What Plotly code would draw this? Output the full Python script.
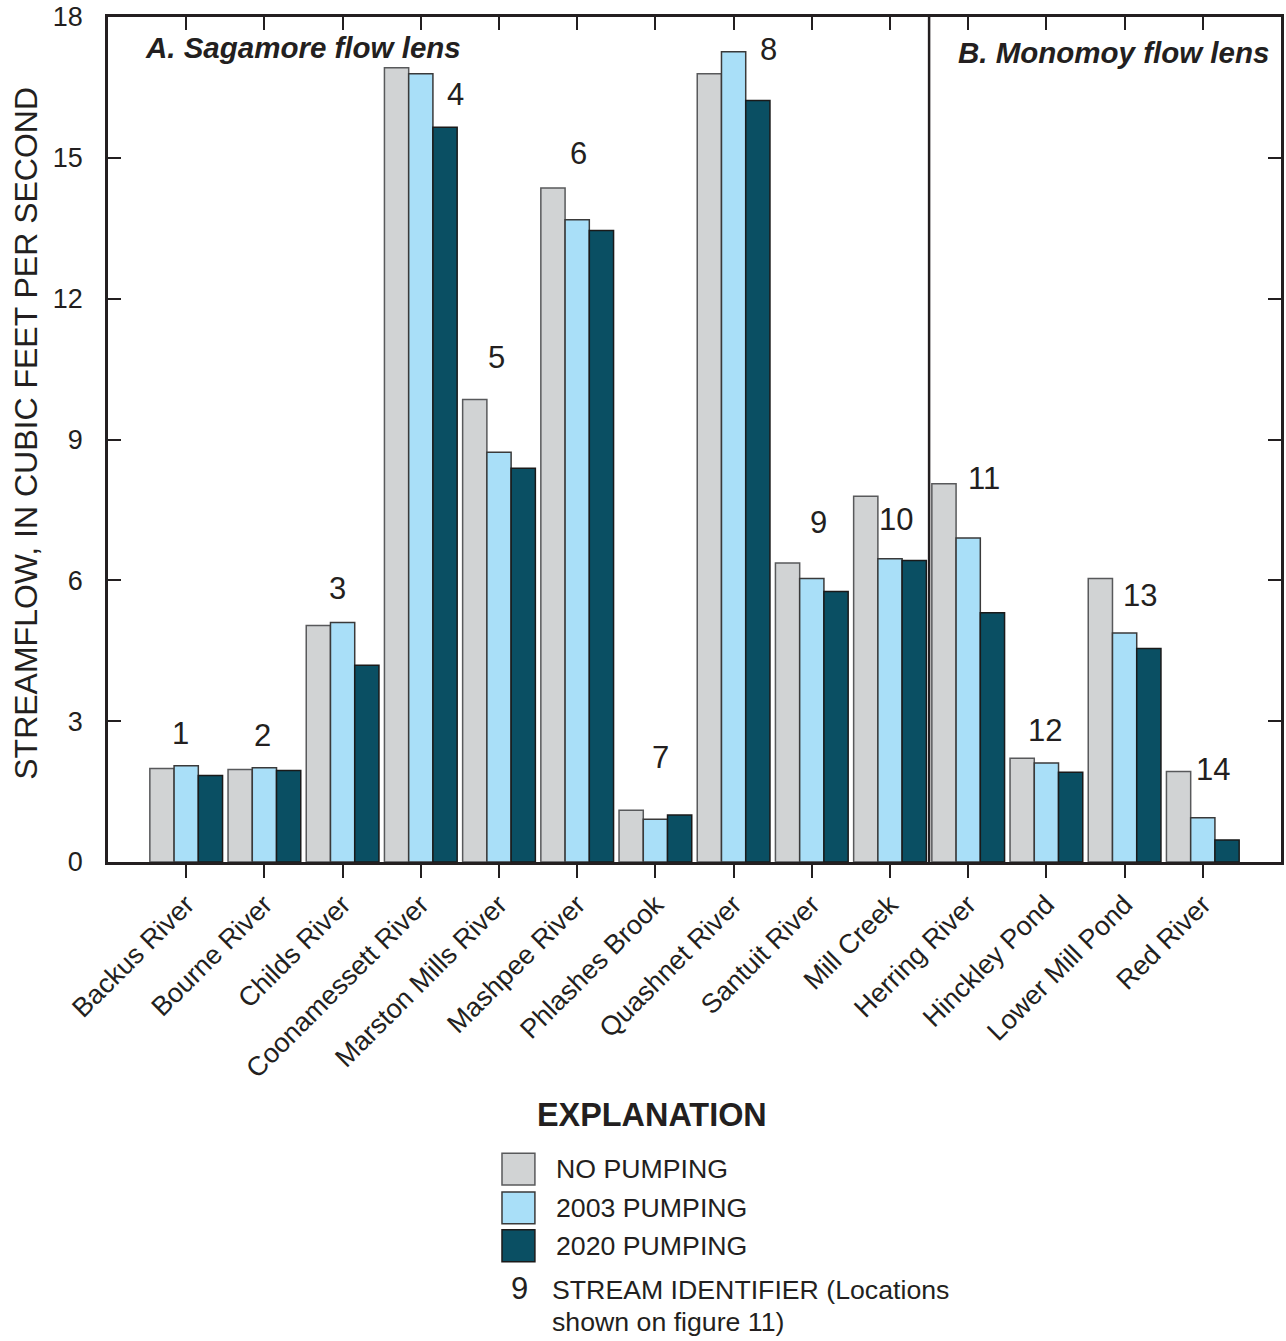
import plotly.graph_objects as go

# ---------------- data ----------------
streams = ["Backus River", "Bourne River", "Childs River", "Coonamessett River",
           "Marston Mills River", "Mashpee River", "Phlashes Brook", "Quashnet River",
           "Santuit River", "Mill Creek", "Herring River", "Hinckley Pond",
           "Lower Mill Pond", "Red River"]
stream_ids = ["1", "2", "3", "4", "5", "6", "7", "8", "9", "10", "11", "12", "13", "14"]
no_pumping = [1.99, 1.97, 5.04, 16.92, 9.85, 14.36, 1.10, 16.79, 6.37, 7.79, 8.06, 2.21, 6.04, 1.93]
pumping_2003 = [2.05, 2.01, 5.10, 16.79, 8.73, 13.68, 0.91, 17.26, 6.04, 6.46, 6.90, 2.11, 4.88, 0.94]
pumping_2020 = [1.84, 1.95, 4.19, 15.65, 8.39, 13.45, 1.00, 16.22, 5.76, 6.42, 5.31, 1.91, 4.55, 0.47]
series_names = ["NO PUMPING", "2003 PUMPING", "2020 PUMPING"]
y_ticks = [0, 3, 6, 9, 12, 15, 18]

# ---------------- style ----------------
FONT = "Liberation Sans, Arial, Helvetica, sans-serif"
TXT = "#231f20"
fills = ["#d1d3d4", "#a9dff8", "#0a4f63"]
edges = ["#58595b", "#3a3a3a", "#1a1a1a"]
label_dx = [-6, -2, -5, 35, -3, 1, 5, 35, 7, 6, 16, -1, 15, 10]
label_dy = [32, 32, 34, -27, 42, 34, 53, 2, 40, -23, 5, 28, -17, 2]

W, H = 1286, 1341
ML, MR, MT, MB = 108, 2, 12, 479
PW, PH = W - ML - MR, H - MT - MB


def px(xp):
    return (xp - ML) / PW


def py(yp):
    return (H - MB - yp) / PH


fig = go.Figure()
for name, vals, fc, ec in zip(series_names, [no_pumping, pumping_2003, pumping_2020], fills, edges):
    fig.add_trace(go.Bar(x=streams, y=vals, name=name, marker=dict(color=fc, line=dict(color=ec, width=1.5)),
                         showlegend=False))

# helper trace for top mirrored category axis
fig.add_trace(go.Scatter(x=streams, y=[None] * len(streams), xaxis="x2", yaxis="y",
                         showlegend=False, hoverinfo="skip", mode="markers"))

annotations = []
for i, (s, sid) in enumerate(zip(streams, stream_ids)):
    top = max(no_pumping[i], pumping_2003[i], pumping_2020[i])
    annotations.append(dict(x=s, y=top, xref="x", yref="y", text=sid, showarrow=False,
                            xshift=label_dx[i], yshift=label_dy[i], yanchor="middle", xanchor="center",
                            font=dict(size=31, color=TXT, family=FONT)))

# panel titles
annotations.append(dict(x=px(143), y=py(43), xref="paper", yref="paper", xanchor="left", yanchor="middle",
                        text="<b><i>A. Sagamore flow lens</i></b>", showarrow=False,
                        font=dict(size=29.5, color=TXT, family=FONT)))
annotations.append(dict(x=px(958), y=py(48), xref="paper", yref="paper", xanchor="left", yanchor="middle",
                        text="<b><i>B. Monomoy flow lens</i></b>", showarrow=False,
                        font=dict(size=29.5, color=TXT, family=FONT)))

# y-axis title
annotations.append(dict(x=px(25), y=py(431), xref="paper", yref="paper", xanchor="center", yanchor="middle",
                        text="STREAMFLOW, IN CUBIC FEET PER SECOND", textangle=-90, showarrow=False,
                        font=dict(size=32, color=TXT, family=FONT)))

# explanation block
annotations.append(dict(x=px(653), y=py(1116), xref="paper", yref="paper", xanchor="center", yanchor="middle",
                        text="<b>EXPLANATION</b>", showarrow=False, font=dict(size=32.4, color=TXT, family=FONT)))
shapes = []
sw_tops = [1155, 1194, 1232]
for name, fc, ec, t in zip(series_names, fills, edges, sw_tops):
    shapes.append(dict(type="rect", xref="paper", yref="paper", x0=px(503), x1=px(536), y0=py(t), y1=py(t + 32),
                       fillcolor=fc, line=dict(color=ec, width=1.5)))
    annotations.append(dict(x=px(555), y=py(t + 16), xref="paper", yref="paper", xanchor="left", yanchor="middle",
                            text=name, showarrow=False, font=dict(size=26.7, color=TXT, family=FONT)))
annotations.append(dict(x=px(521), y=py(1291), xref="paper", yref="paper", xanchor="center", yanchor="middle",
                        text="9", showarrow=False, font=dict(size=31, color=TXT, family=FONT)))
annotations.append(dict(x=px(551), y=py(1293), xref="paper", yref="paper", xanchor="left", yanchor="middle",
                        text="STREAM IDENTIFIER (Locations", showarrow=False, font=dict(size=26.7, color=TXT, family=FONT)))
annotations.append(dict(x=px(551), y=py(1325), xref="paper", yref="paper", xanchor="left", yanchor="middle",
                        text="shown on figure 11)", showarrow=False, font=dict(size=26.7, color=TXT, family=FONT)))

# divider between panels
shapes.append(dict(type="line", xref="x", yref="paper", x0=9.5, x1=9.5, y0=0, y1=1,
                   line=dict(color="#231f20", width=2.5)))

fig.update_layout(
    width=W, height=H,
    margin=dict(l=ML, r=MR, t=MT, b=MB, pad=0),
    paper_bgcolor="white", plot_bgcolor="white",
    barmode="group", bargap=0.07, bargroupgap=0.0,
    font=dict(family=FONT, color=TXT),
    xaxis=dict(type="category", categoryorder="array", categoryarray=streams, range=[-1, len(streams)],
               ticks="outside", ticklen=13, tickwidth=2, tickcolor=TXT,
               showline=True, linecolor=TXT, linewidth=3, showgrid=False, zeroline=False,
               tickangle=-45, tickfont=dict(size=27, color=TXT, family=FONT)),
    xaxis2=dict(type="category", categoryorder="array", categoryarray=streams, range=[-1, len(streams)],
                overlaying="x", side="top", ticks="inside", ticklen=13, tickwidth=2, tickcolor=TXT,
                showline=True, linecolor=TXT, linewidth=2.5, showticklabels=False, showgrid=False,
                zeroline=False),
    yaxis=dict(range=[0, 18], tickvals=y_ticks, ticks="inside", ticklen=13, tickwidth=2, tickcolor=TXT,
               showline=True, mirror="ticks", linecolor=TXT, linewidth=2.5, showgrid=False, zeroline=False,
               tickfont=dict(size=27, color=TXT, family=FONT), ticklabelstandoff=17,
               ticklabeloverflow="allow"),
    annotations=annotations,
    shapes=shapes,
)

fig.write_html("out.html", config={"displayModeBar": False},
               post_script="document.body.style.margin='0';document.body.style.overflow='hidden';")
